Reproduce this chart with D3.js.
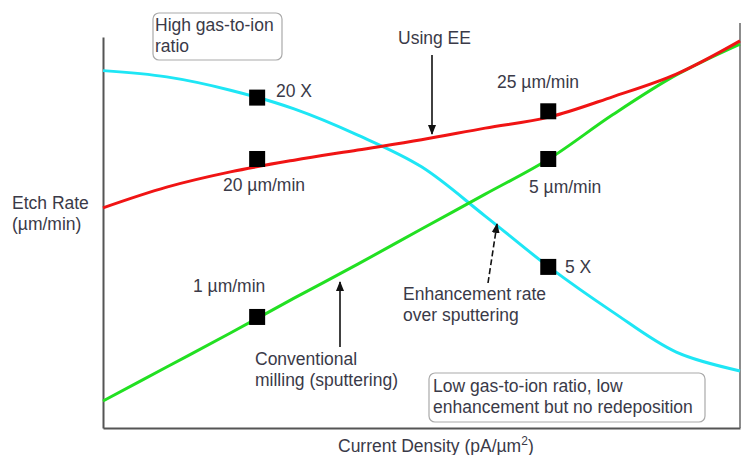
<!DOCTYPE html>
<html>
<head>
<meta charset="utf-8">
<script src="https://cdn.jsdelivr.net/npm/d3@7"></script>
<style>
  body { margin: 0; background: #fff; }
  text { font-family: "Liberation Sans", Arial, sans-serif; font-size: 17.5px; fill: #3a3a48; }
</style>
</head>
<body>
<svg id="chart" width="744" height="455"></svg>
<script>
// current density (arbitrary units 0..10)
const density = [0, 1, 2, 3, 4, 5, 6, 7, 8, 9, 10]

// etch rate curves (arbitrary units 0..10)
const enhancement = [9.14, 8.98, 8.64, 8.16, 7.49, 6.68, 5.42, 4.12, 2.97, 1.94, 1.46]
const usingEE     = [5.63, 6.16, 6.55, 6.85, 7.11, 7.37, 7.67, 7.95, 8.47, 9.05, 9.90]
const sputtering  = [0.69, 1.56, 2.43, 3.32, 4.19, 5.09, 5.98, 6.88, 8.01, 9.03, 9.82]

const markerX = [2.42, 2.42, 2.42, 6.99, 6.99, 6.99]
const markerY = [8.45, 6.88, 2.84, 8.10, 6.88, 4.12]

const svg = d3.select('#chart')

let x = d3.scaleLinear().domain([0, 10]).range([103, 740]),
    y = d3.scaleLinear().domain([0, 10]).range([428, 37])

let defs = svg.append('defs')
defs.append('marker')
    .attr('id', 'head')
    .attr('viewBox', '0 0 10 10')
    .attr('refX', 9).attr('refY', 5)
    .attr('markerWidth', 10).attr('markerHeight', 10)
    .attr('markerUnits', 'userSpaceOnUse')
    .attr('orient', 'auto')
    .append('path')
    .attr('d', 'M0,1 L10,5 L0,9 Z')
    .style('fill', '#111')

// axes
svg.append('g')
    .attr('transform', 'translate(0,' + y(0) + ')')
    .call(d3.axisBottom(x).ticks(0).tickSizeOuter(0))
svg.append('g')
    .attr('transform', 'translate(' + x(0) + ',0)')
    .call(d3.axisLeft(y).ticks(0).tickSizeOuter(0))
svg.selectAll('.domain').style('stroke', '#555').style('stroke-width', 2)

svg.append('line')
    .attr('x1', x(10)).attr('x2', x(10))
    .attr('y1', 23).attr('y2', y(0))
    .style('stroke', '#666').style('stroke-width', 1.5)

let line = d3.line()
    .curve(d3.curveCatmullRom.alpha(0.5))
    .x(d => x(d[0]))
    .y(d => y(d[1]))

const series = [
    {values: enhancement, color: '#1ee6f5'},
    {values: sputtering, color: '#22e022'},
    {values: usingEE, color: '#f01414'}
]

svg.selectAll('.curve')
    .data(series)
    .enter().append('path')
    .attr('class', 'curve')
    .attr('d', d => line(density.map((v, i) => [v, d.values[i]])))
    .style('fill', 'none')
    .style('stroke', d => d.color)
    .style('stroke-width', 3)

svg.selectAll('.pt')
    .data(markerX.map((v, i) => [v, markerY[i]]))
    .enter().append('rect')
    .attr('class', 'pt')
    .attr('x', d => x(d[0]) - 8)
    .attr('y', d => y(d[1]) - 8)
    .attr('width', 16).attr('height', 16)
    .style('fill', '#000')

// annotation boxes
const box = (bx, by, bw, bh, lines, tx, ty) => {
    svg.append('rect')
        .attr('x', bx).attr('y', by).attr('width', bw).attr('height', bh)
        .attr('rx', 6)
        .style('fill', '#fff').style('stroke', '#aaa').style('stroke-width', 1.2)
    lines.forEach((t, i) => {
        svg.append('text').attr('x', tx).attr('y', ty + i * 21).text(t)
    })
}
box(153, 13, 129, 47, ['High gas-to-ion', 'ratio'], 155, 31)
box(429, 373, 276, 49, ['Low gas-to-ion ratio, low', 'enhancement but no redeposition'], 433, 392)

// labels
const label = (tx, ty, t) => svg.append('text').attr('x', tx).attr('y', ty).text(t)
label(276, 97, '20 X')
label(223, 191, '20 µm/min')
label(398, 44, 'Using EE')
label(497, 88, '25 µm/min')
label(529, 193, '5 µm/min')
label(12, 209, 'Etch Rate')
label(12, 230, '(µm/min)')
label(193, 292, '1 µm/min')
label(255, 365, 'Conventional')
label(255, 386, 'milling (sputtering)')
label(403, 300, 'Enhancement rate')
label(403, 321, 'over sputtering')
label(565, 273, '5 X')

let xt = svg.append('text').attr('x', 338).attr('y', 452)
xt.append('tspan').text('Current Density (pA/µm')
xt.append('tspan').attr('dy', -7).style('font-size', '12px').text('2')
xt.append('tspan').attr('dy', 7).text(')')

// arrows
const arrow = (x1, y1, x2, y2, dash) => svg.append('line')
    .attr('x1', x1).attr('y1', y1).attr('x2', x2).attr('y2', y2)
    .attr('marker-end', 'url(#head)')
    .style('stroke', '#111').style('stroke-width', 1.6)
    .style('stroke-dasharray', dash || null)
arrow(432, 55, 432, 134)
arrow(340, 347, 340, 282)
arrow(488, 283, 497, 224, '6,3')
</script>
</body>
</html>
